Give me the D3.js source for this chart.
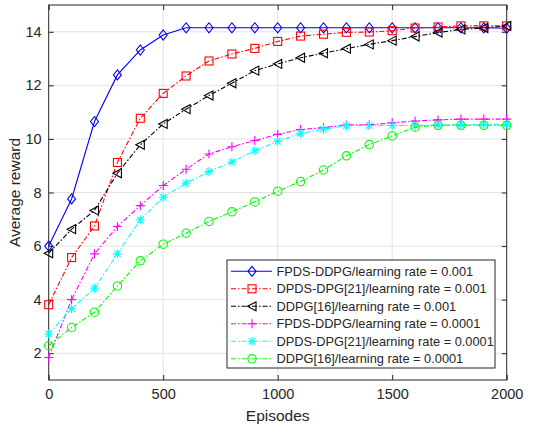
<!DOCTYPE html>
<html>
<head>
<meta charset="utf-8">
<script src="https://d3js.org/d3.v7.min.js"></script>
<style>
  body { margin: 0; background: #fff; }
  text { font-family: "Liberation Sans", Arial, sans-serif; fill: #262626; }
</style>
</head>
<body>
<script>
"use strict";

var episodes = d3.range(0, 2001, 100);

var fpdsHigh = [6.0, 7.76, 10.65, 12.39, 13.32, 13.88, 14.15, 14.15, 14.15, 14.15, 14.15,
                14.15, 14.15, 14.15, 14.15, 14.15, 14.15, 14.15, 14.15, 14.15, 14.13];
var dpdsHigh = [3.81, 5.57, 6.75, 9.12, 10.77, 11.70, 12.35, 12.91, 13.17, 13.38, 13.64,
                13.84, 13.91, 13.98, 13.99, 14.04, 14.14, 14.18, 14.22, 14.22, 14.22];
var ddpgHigh = [5.73, 6.63, 7.33, 8.72, 9.78, 10.56, 11.11, 11.62, 12.08, 12.55, 12.80,
                13.03, 13.20, 13.37, 13.53, 13.67, 13.82, 13.97, 14.09, 14.14, 14.22];
var fpdsLow  = [1.84, 4.0, 5.71, 6.73, 7.51, 8.26, 8.87, 9.44, 9.71, 9.94, 10.17,
                10.35, 10.42, 10.52, 10.53, 10.60, 10.67, 10.71, 10.74, 10.74, 10.74];
var dpdsLow  = [2.72, 3.66, 4.43, 5.71, 6.98, 7.82, 8.35, 8.78, 9.14, 9.56, 9.91,
                10.21, 10.36, 10.49, 10.50, 10.50, 10.50, 10.52, 10.53, 10.54, 10.55];
var ddpgLow  = [2.28, 2.96, 3.53, 4.51, 5.45, 6.07, 6.48, 6.92, 7.28, 7.65, 8.05,
                8.41, 8.84, 9.37, 9.79, 10.11, 10.44, 10.51, 10.51, 10.51, 10.51];

var xTicks = [0, 500, 1000, 1500, 2000];
var yTicks = [2, 4, 6, 8, 10, 12, 14];

var series = [
  { name: "FPDS-DDPG/learning rate = 0.001",    values: fpdsHigh, color: "#0000ff", dash: null,          marker: "diamond" },
  { name: "DPDS-DPG[21]/learning rate = 0.001",  values: dpdsHigh, color: "#ff0000", dash: "5,2,1.5,2", marker: "square" },
  { name: "DDPG[16]/learning rate = 0.001",      values: ddpgHigh, color: "#000000", dash: "5,2,1.5,2", marker: "triangle" },
  { name: "FPDS-DDPG/learning rate = 0.0001",   values: fpdsLow,  color: "#ff00ff", dash: "5,2,1.5,2", marker: "plus" },
  { name: "DPDS-DPG[21]/learning rate = 0.0001", values: dpdsLow,  color: "#00ffff", dash: "5,2,1.5,2", marker: "star" },
  { name: "DDPG[16]/learning rate = 0.0001",     values: ddpgLow,  color: "#00ff00", dash: "5,2,1.5,2", marker: "circle" }
];

var W = 543, H = 430;
var pLeft = 48.7, pRight = 506.7, pTop = 5, pBottom = 380;

var svg = d3.select("body").append("svg")
  .attr("width", W).attr("height", H);

var x = d3.scaleLinear().domain([0, 2000]).range([pLeft, pRight]);
var y = d3.scaleLinear().domain([1, 15]).range([pBottom, pTop]);

// grid
svg.append("g").selectAll("line").data(xTicks.slice(1, -1)).enter().append("line")
  .attr("x1", d => x(d)).attr("x2", d => x(d)).attr("y1", pTop).attr("y2", pBottom)
  .attr("stroke", "#e3e3e3").attr("stroke-width", 1);
svg.append("g").selectAll("line").data(yTicks).enter().append("line")
  .attr("y1", d => y(d)).attr("y2", d => y(d)).attr("x1", pLeft).attr("x2", pRight)
  .attr("stroke", "#e3e3e3").attr("stroke-width", 1);

// axes (ticks inside, box on)
var tl = 5;
var fmt = d3.format("d");
var gx = svg.append("g").attr("transform", "translate(0," + pBottom + ")")
  .call(d3.axisBottom(x).tickValues(xTicks).tickFormat(fmt).tickSizeInner(-tl).tickSizeOuter(0).tickPadding(9));
var gxt = svg.append("g").attr("transform", "translate(0," + pTop + ")")
  .call(d3.axisTop(x).tickValues(xTicks).tickSizeInner(-tl).tickSizeOuter(0).tickFormat(""));
var gy = svg.append("g").attr("transform", "translate(" + pLeft + ",0)")
  .call(d3.axisLeft(y).tickValues(yTicks).tickFormat(fmt).tickSizeInner(-tl).tickSizeOuter(0).tickPadding(7));
var gyr = svg.append("g").attr("transform", "translate(" + pRight + ",0)")
  .call(d3.axisRight(y).tickValues(yTicks).tickSizeInner(-tl).tickSizeOuter(0).tickFormat(""));
[gx, gxt, gy, gyr].forEach(function (g) {
  g.select(".domain").remove();
  g.selectAll("line").attr("stroke", "#262626");
  g.selectAll("text").style("font-size", "14.5px").attr("fill", "#262626")
    .style("font-family", "'Liberation Sans', Arial, sans-serif");
});
svg.append("rect").attr("x", pLeft).attr("y", pTop)
  .attr("width", pRight - pLeft).attr("height", pBottom - pTop)
  .attr("fill", "none").attr("stroke", "#262626").attr("stroke-width", 1);

// labels
svg.append("text").attr("x", (pLeft + pRight) / 2).attr("y", 421)
  .attr("text-anchor", "middle").style("font-size", "15.5px").text("Episodes");
svg.append("text")
  .attr("transform", "translate(20," + ((pTop + pBottom) / 2) + ") rotate(-90)")
  .attr("text-anchor", "middle").style("font-size", "15.5px").text("Average reward");

function drawMarker(g, type, color) {
  var s = 4;
  if (type === "diamond") {
    g.append("path").attr("d", "M0," + (-5) + "L4,0L0,5L-4,0Z")
      .attr("fill", "none").attr("stroke", color).attr("stroke-width", 1.1);
  } else if (type === "square") {
    g.append("rect").attr("x", -s).attr("y", -s).attr("width", 2 * s).attr("height", 2 * s)
      .attr("fill", "none").attr("stroke", color).attr("stroke-width", 1.1);
  } else if (type === "triangle") {
    g.append("path").attr("d", "M-4.5,0L4,-4.5L4,4.5Z")
      .attr("fill", "none").attr("stroke", color).attr("stroke-width", 1.1);
  } else if (type === "plus") {
    g.append("path").attr("d", "M-4.5,0H4.5M0,-4.5V4.5")
      .attr("stroke", color).attr("stroke-width", 1.1);
  } else if (type === "star") {
    g.append("path").attr("d", "M-4.5,0H4.5M0,-4.5V4.5M-3.2,-3.2L3.2,3.2M-3.2,3.2L3.2,-3.2")
      .attr("stroke", color).attr("stroke-width", 1.1);
  } else if (type === "circle") {
    g.append("circle").attr("r", 4.2)
      .attr("fill", "none").attr("stroke", color).attr("stroke-width", 1.1);
  }
}

var line = d3.line().x((d, i) => x(episodes[i])).y(d => y(d));

var plot = svg.append("g");
series.forEach(function (s) {
  plot.append("path").datum(s.values).attr("d", line)
    .attr("fill", "none").attr("stroke", s.color).attr("stroke-width", 1.1)
    .attr("stroke-dasharray", s.dash);
  s.values.forEach(function (v, i) {
    var g = plot.append("g").attr("transform", "translate(" + x(episodes[i]) + "," + y(v) + ")");
    drawMarker(g, s.marker, s.color);
  });
});

// legend
var lg = svg.append("g");
lg.append("rect").attr("x", 227).attr("y", 260).attr("width", 268).attr("height", 108)
  .attr("fill", "#fff").attr("stroke", "#262626").attr("stroke-width", 1);
series.forEach(function (s, i) {
  var yy = 271.3 + i * 17.5;
  lg.append("line").attr("x1", 231).attr("x2", 272).attr("y1", yy).attr("y2", yy)
    .attr("stroke", s.color).attr("stroke-width", 1.1).attr("stroke-dasharray", s.dash);
  var g = lg.append("g").attr("transform", "translate(252," + yy + ")");
  drawMarker(g, s.marker, s.color);
  lg.append("text").attr("x", 276.5).attr("y", yy).attr("dy", "0.36em")
    .style("font-size", "12.8px").attr("fill", "#000").text(s.name);
});
</script>
</body>
</html>
